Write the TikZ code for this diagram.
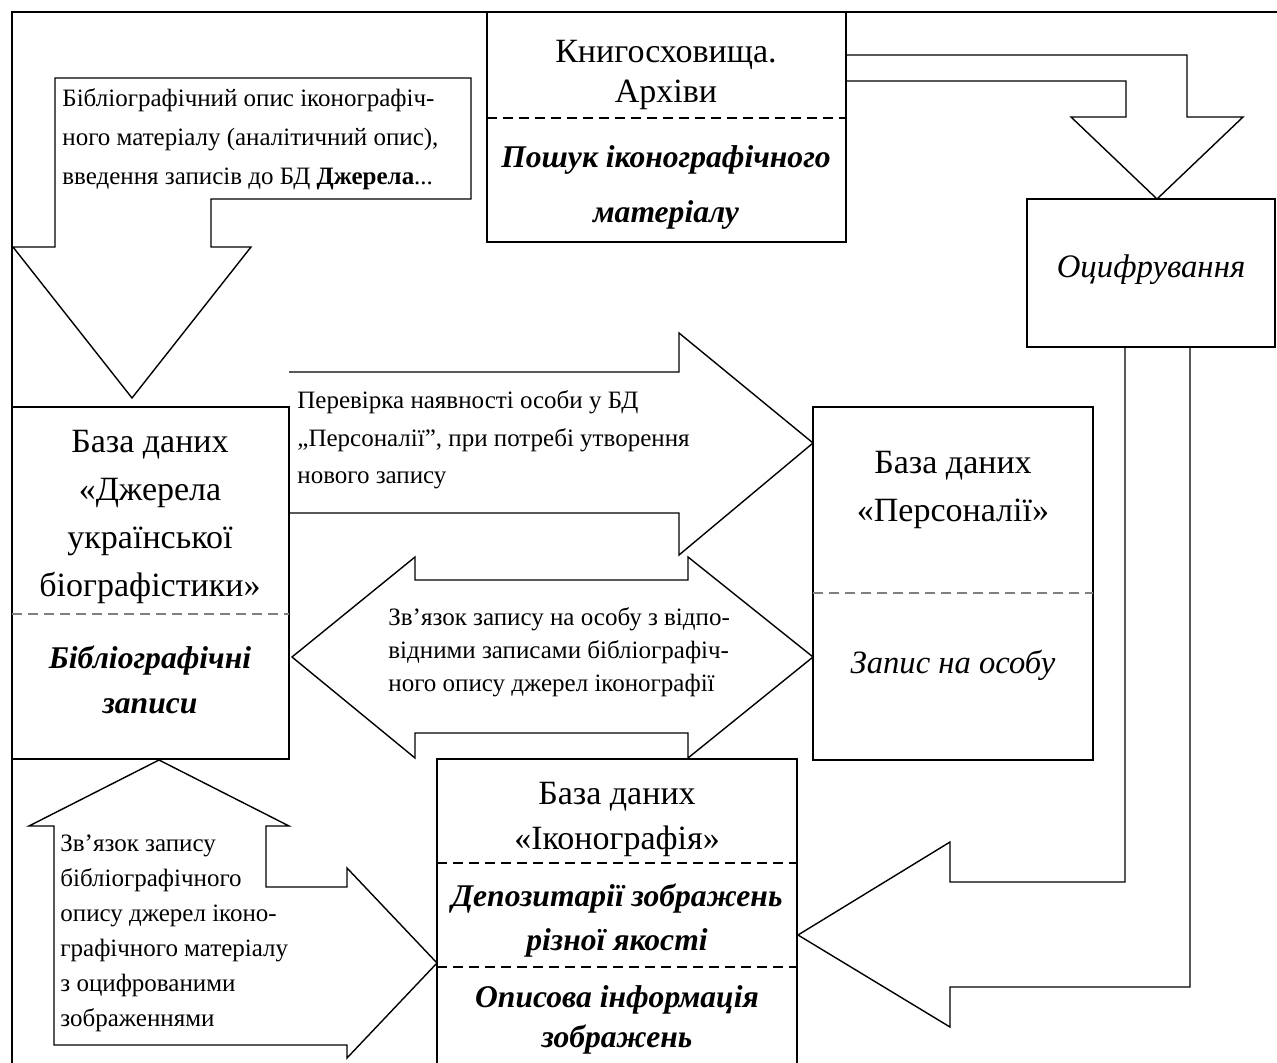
\documentclass[tikz,border=0pt]{standalone}
\usepackage{fontspec}
\setmainfont{Liberation Serif}
\usepackage{tikz}

\tikzset{
    boxline/.style={line width=1pt},
    blockarrow/.style={line width=0.7pt},
    sepline/.style={dash pattern=on 5pt off 3pt, line width=0.8pt},
    bigtext/.style={font=\fontsize{17}{24}\selectfont, align=center, inner sep=0pt},
    emtext/.style={font=\fontsize{15.8}{22}\selectfont\bfseries\itshape, align=center, inner sep=0pt},
    smalltext/.style={font=\fontsize{12.5}{19}\selectfont, align=left, inner sep=0pt, anchor=west}
}

\begin{document}
\begin{tikzpicture}[x=0.5pt, y=-0.5pt]
        \useasboundingbox (0,0) rectangle (1277,1063);

        \draw[boxline] (12,1063) -- (12,12) -- (1277,12);

        \draw[boxline] (487,12) rectangle (846,242);
        \draw[sepline] (487,118) -- (846,118);
        \draw[boxline] (1027,199) rectangle (1275,347);
        \draw[boxline] (12,407) rectangle (289,759);
        \draw[sepline, gray] (12,614) -- (289,614);
        \draw[boxline] (813,407) rectangle (1093,760);
        \draw[sepline, gray] (813,593) -- (1093,593);
        \draw[boxline] (437,1063) -- (437,759) -- (797,759) -- (797,1063);
        \foreach \y in {863, 967} {
            \draw[sepline] (437,\y) -- (797,\y);
        }

        \draw[blockarrow] (55,78) -- (471,78) -- (471,199) -- (211,199) -- (211,247)
            -- (251,247) -- (132,398) -- (13,247) -- (55,247) -- cycle;
        \draw[blockarrow] (846,55) -- (1187,55) -- (1187,117) -- (1243,117) -- (1157,199)
            -- (1071,117) -- (1126,117) -- (1126,81) -- (846,81);
        \draw[blockarrow] (1125,347) -- (1125,882) -- (950,882) -- (950,842) -- (798,935)
            -- (950,1027) -- (950,987) -- (1190,987) -- (1190,347);
        \draw[blockarrow] (289,372) -- (679,372) -- (679,333) -- (813,443) -- (679,555)
            -- (679,513) -- (289,513);
        \draw[blockarrow] (292,657) -- (415,557) -- (415,580) -- (688,580) -- (688,557)
            -- (813,657) -- (688,758) -- (688,733) -- (415,733) -- (415,758) -- cycle;
        \draw[blockarrow] (54,1045) -- (54,826) -- (29,826) -- (159,760) -- (289,826)
            -- (266,826) -- (266,887) -- (347,887) -- (347,868) -- (437,963)
            -- (347,1058) -- (347,1045) -- cycle;

        \node[smalltext, font=\fontsize{12.5}{19.5}\selectfont] (opys) at (62,139)
            {Бібліографічний опис іконографіч-\\ного матеріалу (аналітичний опис),\\введення записів до БД \textbf{Джерела}...};
        \node[smalltext, font=\fontsize{12.5}{18.75}\selectfont] (perevirka) at (297,440)
            {Перевірка наявності особи у БД\\„Персоналії”, при потребі утворення\\нового запису};
        \node[smalltext, font=\fontsize{12.5}{16.5}\selectfont] (zviazok) at (388,652)
            {Зв'язок запису на особу з відпо-\\відними записами бібліографіч-\\ного опису джерел іконографії};
        \node[smalltext, font=\fontsize{12.5}{17.5}\selectfont] (zviazokzobr) at (60,933)
            {Зв'язок запису\\бібліографічного\\опису джерел іконо-\\графічного матеріалу\\з оцифрованими\\зображеннями};

        \node[bigtext, font=\fontsize{17}{20}\selectfont] (knyhoskh) at (666,75) {Книгосховища.\\Архіви};
        \node[emtext, font=\fontsize{15.8}{27.5}\selectfont\bfseries\itshape] (poshuk) at (666,187) {Пошук іконографічного\\матеріалу};
        \node[emtext, font=\fontsize{16.4}{22}\selectfont\itshape] (otsyfr) at (1151,270) {Оцифрування};
        \node[bigtext] (dzherela) at (150,517) {База даних\\«Джерела\\української\\біографістики»};
        \node[emtext, font=\fontsize{15.8}{22.5}\selectfont\bfseries\itshape] (bibl) at (150,680) {Бібліографічні\\записи};
        \node[bigtext] (personalii) at (953,490) {База даних\\«Персоналії»};
        \node[emtext, font=\fontsize{16.3}{22}\selectfont\itshape] (zapys) at (953,665) {Запис на особу};
        \node[bigtext, font=\fontsize{17}{22.5}\selectfont] (ikono) at (617,819) {База даних\\«Іконографія»};
        \node[emtext] (depozyt) at (617,921) {Депозитарії зображень\\різної якості};
        \node[emtext, font=\fontsize{15.8}{20}\selectfont\bfseries\itshape] (opysova) at (617,1020) {Описова інформація\\зображень};
    \end{tikzpicture}
\end{document}
